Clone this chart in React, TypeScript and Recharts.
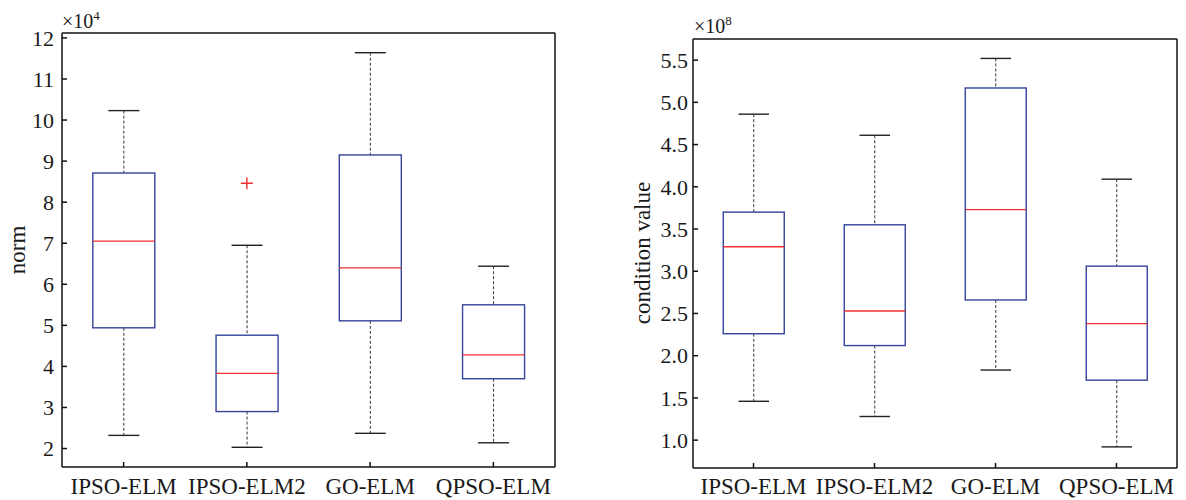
import React from "react";
import { ComposedChart, Bar, Scatter, XAxis, YAxis } from "recharts";

const methods = ["IPSO-ELM", "IPSO-ELM2", "GO-ELM", "QPSO-ELM"];

// norm, in units of 10^4
const normMin = [2.32, 2.03, 2.37, 2.14];
const normQ1 = [4.94, 2.9, 5.11, 3.7];
const normMedian = [7.05, 3.83, 6.4, 4.28];
const normQ3 = [8.71, 4.76, 9.15, 5.5];
const normMax = [10.23, 6.95, 11.64, 6.44];
const normOutliers = [null, 8.46, null, null];
const normTicks = [2, 3, 4, 5, 6, 7, 8, 9, 10, 11, 12];

// condition value, in units of 10^8
const condMin = [1.46, 1.28, 1.83, 0.92];
const condQ1 = [2.26, 2.12, 2.66, 1.71];
const condMedian = [3.29, 2.53, 3.73, 2.38];
const condQ3 = [3.7, 3.55, 5.17, 3.06];
const condMax = [4.86, 4.61, 5.52, 4.09];
const condOutliers = [null, null, null, null];
const condTicks = [1.0, 1.5, 2.0, 2.5, 3.0, 3.5, 4.0, 4.5, 5.0, 5.5];

const build = (mn: number[], q1: number[], med: number[], q3: number[], mx: number[], out: (number | null)[]) =>
  methods.map((name, i) => ({
    name,
    min: mn[i],
    q1: q1[i],
    median: med[i],
    q3: q3[i],
    max: mx[i],
    outlier: out[i],
  }));

const normData = build(normMin, normQ1, normMedian, normQ3, normMax, normOutliers);
const condData = build(condMin, condQ1, condMedian, condQ3, condMax, condOutliers);

const FONT = "'Liberation Serif', 'Times New Roman', serif";
const AXIS = "#111";
const BOX = "#34449a";
const MED = "#f2302f";

const BoxShape = (props: any) => {
  const { x, y, width, height, payload } = props;
  if (!payload || x == null || y == null) return <g />;
  const { min, q1, median, q3, max } = payload;
  const top = Math.min(y, y + height);
  const h = Math.abs(height);
  const toY = (v: number) => top + ((max - v) / (max - min)) * h;
  const cx = x + width / 2;
  const cap = width / 4;
  return (
    <g>
      <line x1={cx} x2={cx} y1={toY(max)} y2={toY(q3)} stroke="#333" strokeDasharray="3 2" />
      <line x1={cx} x2={cx} y1={toY(q1)} y2={toY(min)} stroke="#333" strokeDasharray="3 2" />
      <line x1={cx - cap} x2={cx + cap} y1={toY(max)} y2={toY(max)} stroke="#222" strokeWidth={1.4} />
      <line x1={cx - cap} x2={cx + cap} y1={toY(min)} y2={toY(min)} stroke="#222" strokeWidth={1.4} />
      <rect x={x} y={toY(q3)} width={width} height={toY(q1) - toY(q3)} fill="none" stroke={BOX} strokeWidth={1.4} />
      <line x1={x} x2={x + width} y1={toY(median)} y2={toY(median)} stroke={MED} strokeWidth={1.4} />
    </g>
  );
};

const PlusShape = (props: any) => {
  const { cx, cy, payload } = props;
  if (!payload || payload.outlier == null || cx == null || cy == null) return <g />;
  return (
    <g>
      <line x1={cx - 6} x2={cx + 6} y1={cy} y2={cy} stroke={MED} strokeWidth={1.4} />
      <line x1={cx} x2={cx} y1={cy - 6} y2={cy + 6} stroke={MED} strokeWidth={1.4} />
    </g>
  );
};

interface PanelProps {
  data: any[];
  domain: [number, number];
  ticks: number[];
  fmt?: (v: number) => string;
  width: number;
  margin: { top: number; right: number; bottom: number; left: number };
  yWidth: number;
  yMargin: number;
  xMargin: number;
}

function BoxPanel({ data, domain, ticks, fmt, width, margin, yWidth, yMargin, xMargin }: PanelProps) {
  return (
    <ComposedChart width={width} height={500} data={data} margin={margin} barCategoryGap="25%" style={{ fontFamily: FONT }}>
      <XAxis
        dataKey="name"
        type="category"
        interval={0}
        height={30}
        tickSize={-5}
        tickMargin={xMargin}
        stroke={AXIS}
        strokeWidth={1.5}
        tick={{ fontSize: 23, fill: "#1a1a1a", fontFamily: FONT }}
      />
      <XAxis
        xAxisId="top"
        orientation="top"
        dataKey="name"
        type="category"
        interval={0}
        height={5}
        tickSize={-5}
        stroke={AXIS}
        strokeWidth={1.5}
        tick={false}
      />
      <YAxis
        type="number"
        domain={domain}
        ticks={ticks}
        interval={0}
        allowDataOverflow
        width={yWidth}
        tickSize={-5}
        tickMargin={yMargin}
        tickFormatter={fmt}
        stroke={AXIS}
        strokeWidth={1.5}
        tick={{ fontSize: 22, fill: "#1a1a1a", fontFamily: FONT }}
      />
      <YAxis
        yAxisId="right"
        orientation="right"
        type="number"
        domain={domain}
        ticks={ticks}
        interval={0}
        allowDataOverflow
        width={5}
        tickSize={-5}
        stroke={AXIS}
        strokeWidth={1.5}
        tick={false}
      />
      <Bar dataKey={(d: any) => [d.min, d.max]} shape={BoxShape} isAnimationActive={false} />
      <Scatter dataKey="outlier" shape={PlusShape} isAnimationActive={false} />
    </ComposedChart>
  );
}

export default function App() {
  return (
    <div style={{ position: "absolute", left: 0, top: 0, width: 1186, height: 500, background: "#fff", fontFamily: FONT, color: "#1a1a1a" }}>
      <div style={{ position: "absolute", left: 0, top: 0 }}>
        <BoxPanel
          data={normData}
          domain={[1.55, 12.12]}
          ticks={normTicks}
          width={580}
          margin={{ top: 28, right: 20, bottom: 3, left: 0 }}
          yWidth={62}
          yMargin={13}
          xMargin={16}
        />
      </div>
      <div style={{ position: "absolute", left: 620, top: 0 }}>
        <BoxPanel
          data={condData}
          domain={[0.67, 5.75]}
          ticks={condTicks}
          fmt={(v: number) => v.toFixed(1)}
          width={566}
          margin={{ top: 34, right: 4, bottom: 2, left: 0 }}
          yWidth={73}
          yMargin={10}
          xMargin={15}
        />
      </div>
      <div style={{ position: "absolute", left: 62, top: 5, fontSize: 20, lineHeight: "22px", whiteSpace: "nowrap" }}>
        ×10<sup style={{ fontSize: 13 }}>4</sup>
      </div>
      <div style={{ position: "absolute", left: 694, top: 10, fontSize: 20, lineHeight: "22px", whiteSpace: "nowrap" }}>
        ×10<sup style={{ fontSize: 13 }}>8</sup>
      </div>
      <div style={{ position: "absolute", left: 17, top: 250, fontSize: 23, lineHeight: 1, whiteSpace: "nowrap", transform: "translate(-50%, -50%) rotate(-90deg)" }}>
        norm
      </div>
      <div style={{ position: "absolute", left: 642, top: 253, fontSize: 23, lineHeight: 1, whiteSpace: "nowrap", transform: "translate(-50%, -50%) rotate(-90deg)" }}>
        condition value
      </div>
    </div>
  );
}
